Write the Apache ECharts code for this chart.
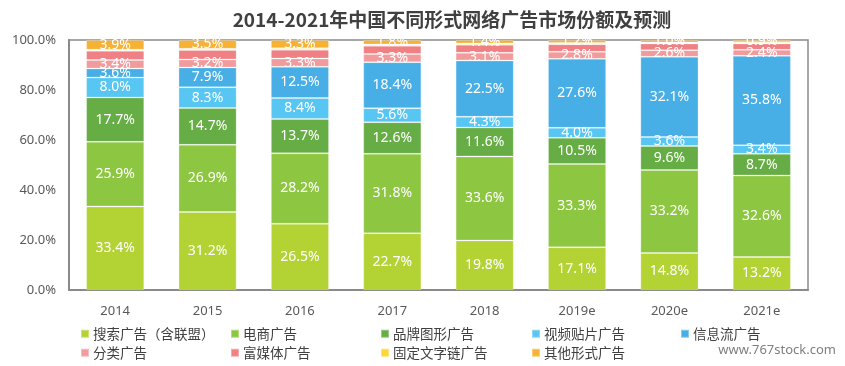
<!DOCTYPE html>
<html><head><meta charset="utf-8">
<script src="https://cdn.jsdelivr.net/npm/echarts@6/dist/echarts.min.js"></script>
<style>html,body{margin:0;padding:0;background:#fff}#c{width:845px;height:366px}</style>
</head><body><div id="c"></div>
<script>
var categories = ['2014','2015','2016','2017','2018','2019e','2020e','2021e'];
var seriesNames = ['搜索广告（含联盟）','电商广告','品牌图形广告','视频贴片广告','信息流广告','分类广告','富媒体广告','固定文字链广告','其他形式广告'];
var search    = [33.4, 31.2, 26.5, 22.7, 19.8, 17.1, 14.8, 13.2];
var ecommerce = [25.9, 26.9, 28.2, 31.8, 33.6, 33.3, 33.2, 32.6];
var brand     = [17.7, 14.7, 13.7, 12.6, 11.6, 10.5, 9.6, 8.7];
var video     = [8.0, 8.3, 8.4, 5.6, 4.3, 4.0, 3.6, 3.4];
var infoflow  = [3.6, 7.9, 12.5, 18.4, 22.5, 27.6, 32.1, 35.8];
var classified= [3.4, 3.2, 3.3, 3.3, 3.1, 2.8, 2.6, 2.4];
var richmedia = [3.7, 3.8, 3.5, 3.3, 3.2, 3.0, 2.7, 2.5];
var textlink  = [0.4, 0.5, 0.6, 0.5, 0.5, 0.5, 0.4, 0.5];
var other     = [3.9, 3.5, 3.3, 1.8, 1.4, 1.2, 1.0, 0.9];
var yTicks = [0, 20, 40, 60, 80, 100];

var allData = [search, ecommerce, brand, video, infoflow, classified, richmedia, textlink, other];
var colors = ['#b3d335','#8dc641','#67ad45','#57c6f3','#48afe6','#f29b9d','#ef8185','#fdd535','#f7b234'];
var showLabel = [true,true,true,true,true,true,false,false,true];
var legendPos = [[80,327],[230,327],[380,327],[531,327],[680,327],[80,346],[230,346],[380,346],[531,346]];

var chart = echarts.init(document.getElementById('c'));
var series = allData.map(function(d, i){
  return {
    name: seriesNames[i], type: 'bar', stack: 'a', data: d, barWidth: 58,
    itemStyle: {color: colors[i], borderColor: 'rgba(255,255,255,0.35)', borderWidth: 0.8},
    label: {show: showLabel[i], position: 'inside', color: '#fff', fontSize: 14,
      fontFamily: 'Noto Sans', formatter: function(p){return p.value.toFixed(1) + '%';}},
    emphasis: {disabled: true}, animation: false
  };
});
var legends = seriesNames.map(function(n, i){
  return {data: [n], left: legendPos[i][0], top: legendPos[i][1], itemWidth: 8, itemHeight: 8,
    itemGap: 4, icon: 'rect', padding: 0,
    textStyle: {fontSize: 13.5, color: '#404040', fontFamily: 'Noto Sans CJK SC', padding: [0,0,0,-1]}};
});
chart.setOption({
  animation: false,
  title: {text: '2014-2021年中国不同形式网络广告市场份额及预测', left: 447, textAlign: 'center', top: 5,
    textStyle: {fontSize: 19, fontWeight: 'bold', color: '#404040', fontFamily: 'Noto Sans CJK SC'}},
  graphic: [{type: 'text', right: 9, top: 344, style: {text: 'www.767stock.com', fill: '#7f7f7f', fontSize: 13, fontFamily: 'Noto Sans'}}],
  legend: legends,
  grid: {left: 69, right: 37, top: 40, bottom: 76, show: true, borderColor: '#8a8a8a', borderWidth: 1.5, backgroundColor: 'transparent'},
  xAxis: {type: 'category', data: categories,
    axisLine: {lineStyle: {color: '#8a8a8a', width: 2}}, axisTick: {show: false},
    axisLabel: {color: '#595959', fontSize: 13, margin: 15, fontFamily: 'Noto Sans'}},
  yAxis: {type: 'value', min: yTicks[0], max: yTicks[yTicks.length-1], interval: 20,
    axisLine: {show: true, lineStyle: {color: '#8a8a8a', width: 2}}, axisTick: {show: false},
    splitLine: {show: false},
    axisLabel: {color: '#595959', fontSize: 13, margin: 13, fontFamily: 'Noto Sans', formatter: function(v){return v.toFixed(1) + '%';}}},
  series: series
});
</script></body></html>
